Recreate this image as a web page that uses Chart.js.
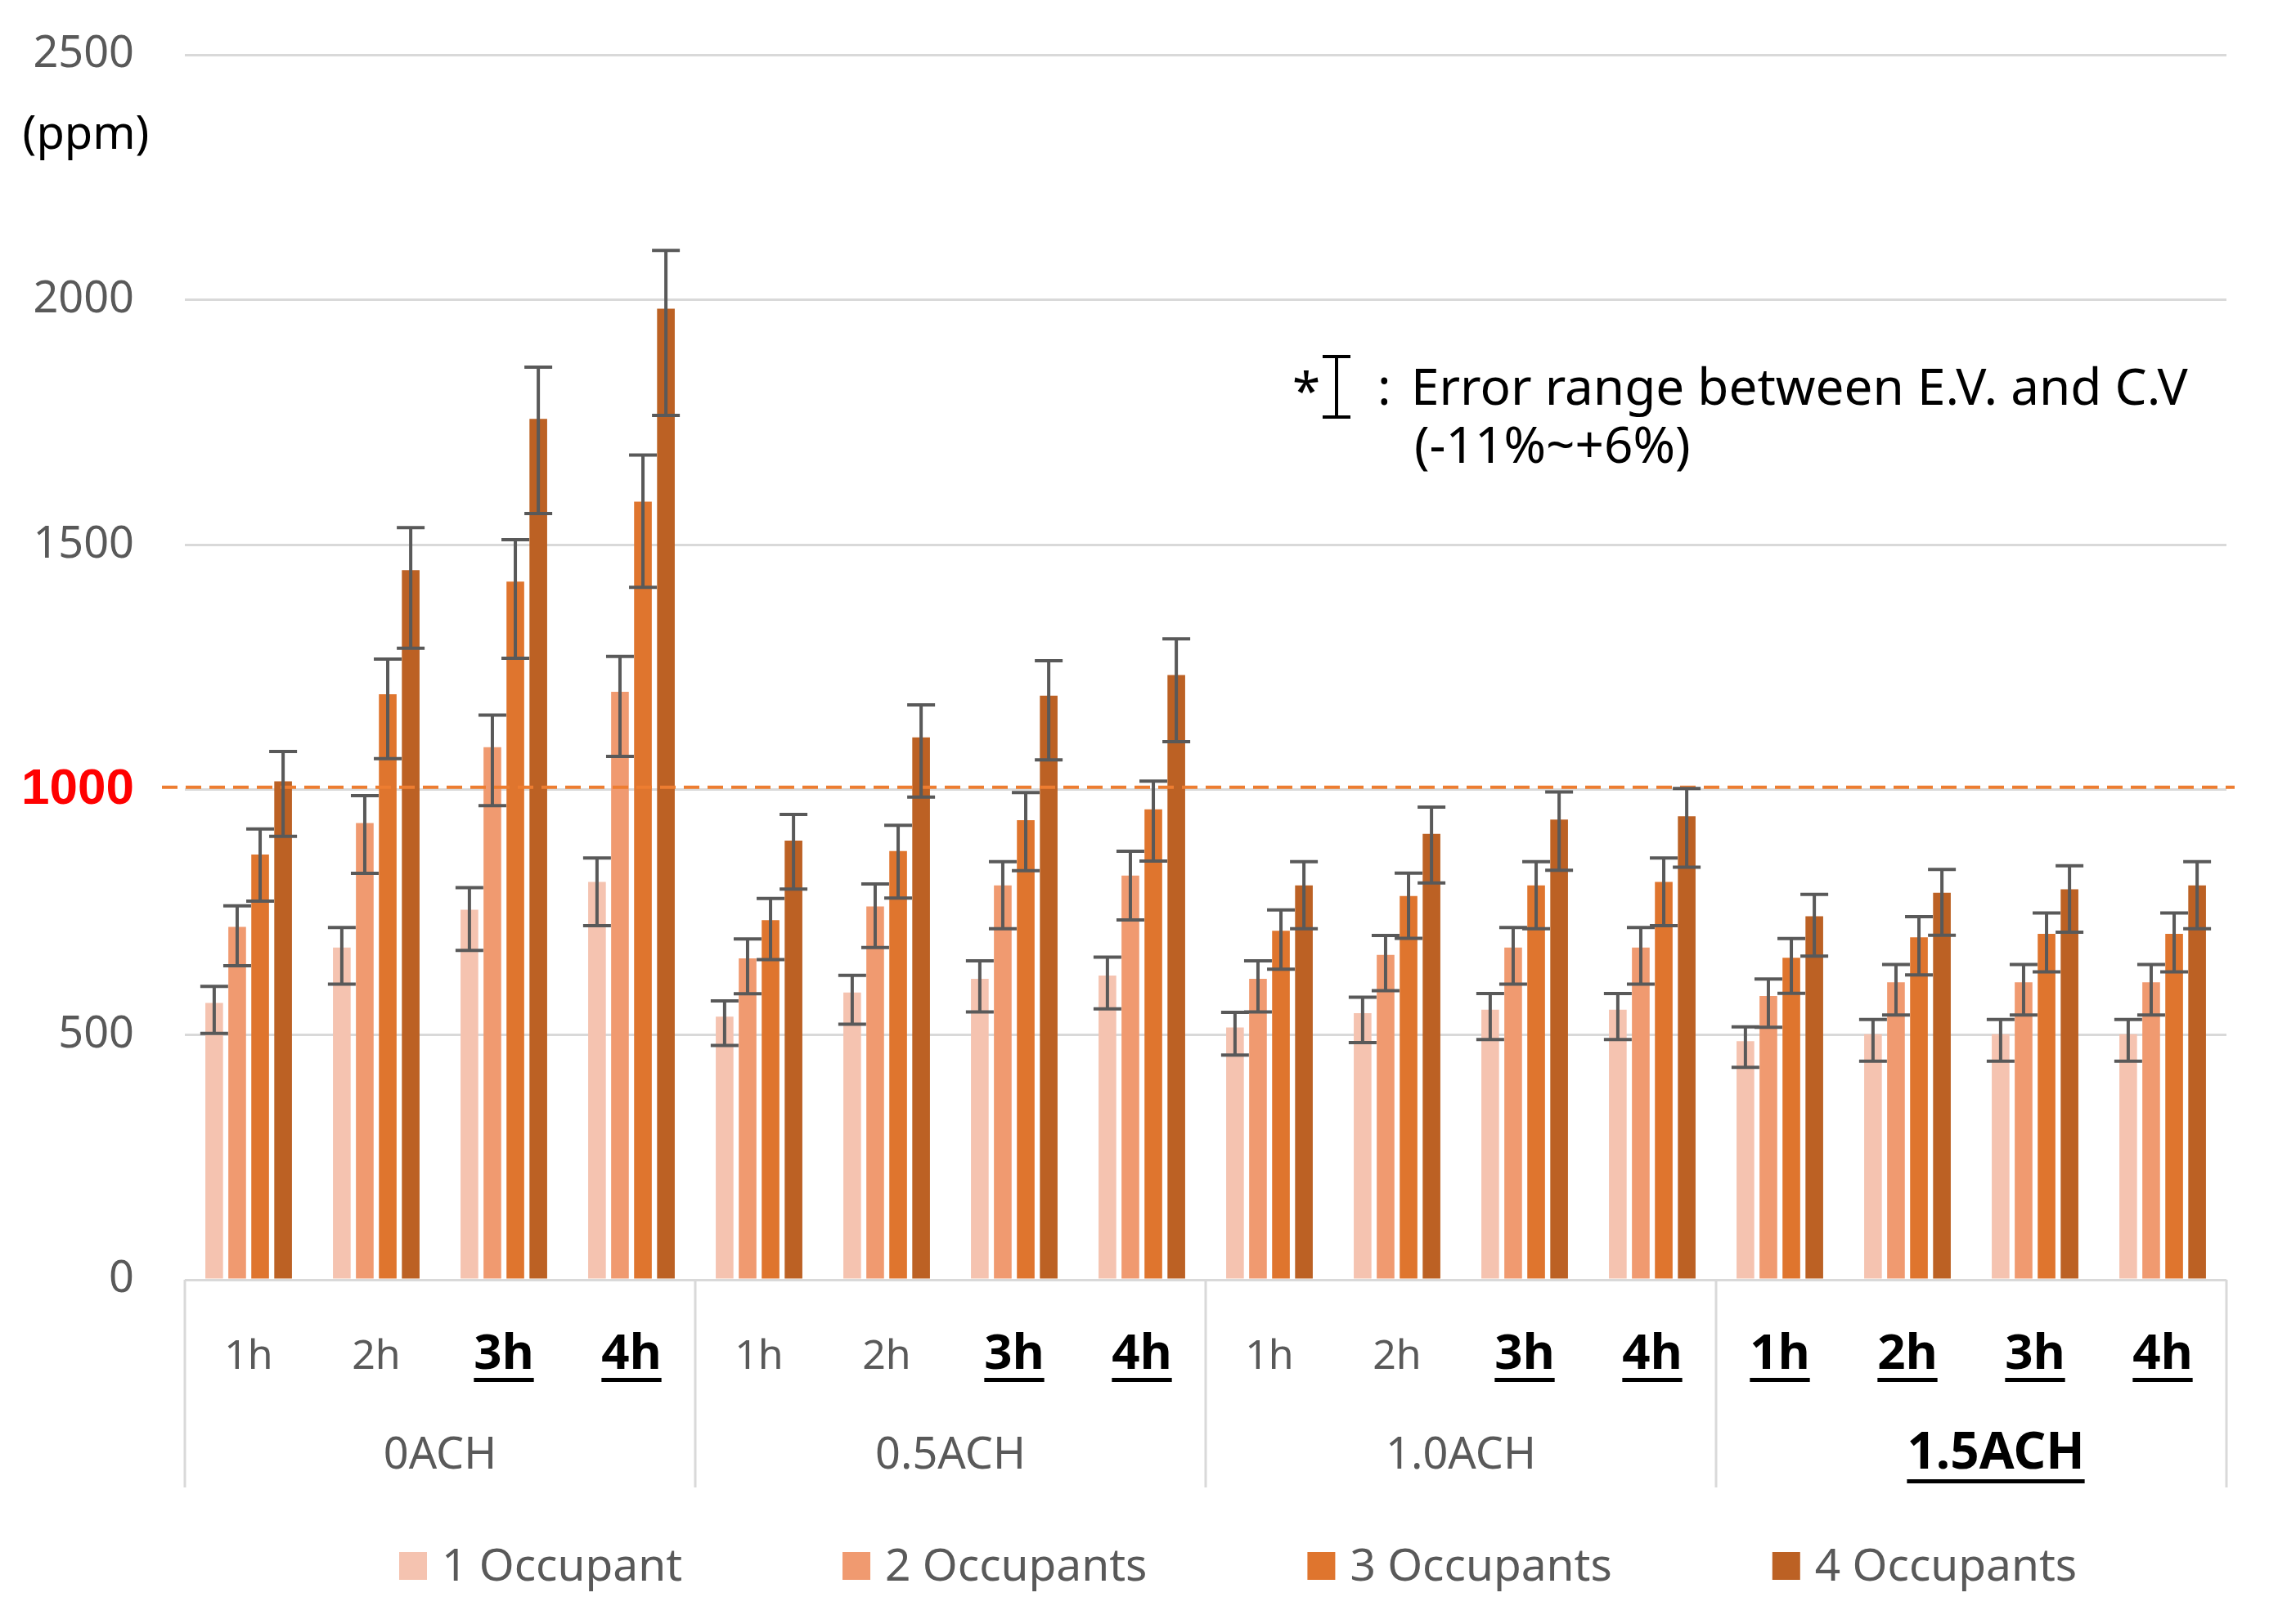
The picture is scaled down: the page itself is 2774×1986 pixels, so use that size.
<!DOCTYPE html>
<html>
<head>
<meta charset="utf-8">
<script src="https://cdn.jsdelivr.net/npm/chart.js@4.4.0/dist/chart.umd.min.js"></script>
<style>
  html, body { margin: 0; padding: 0; background: #fff; }
  #wrap { width: 2774px; height: 1986px; }
</style>
</head>
<body>
<div id="wrap"><canvas id="co2Chart" width="2774" height="1986"></canvas></div>
<script>
// Nhãn trục
const hourLabels = ['1h', '2h', '3h', '4h'];
const groupLabels = ['0ACH', '0.5ACH', '1.0ACH', '1.5ACH'];
const seriesNames = ['1 Occupant', '2 Occupants', '3 Occupants', '4 Occupants'];
const yTicks = [0, 500, 1000, 1500, 2000, 2500];

// Giá trị CO2 (ppm), theo thứ tự 0ACH 1h..4h, 0.5ACH 1h..4h, ...
const occupant1 = [565, 678, 755, 812, 537, 586, 614, 621, 515, 544, 551, 551, 487, 501, 501, 501];
const occupant2 = [720, 932, 1087, 1200, 656, 762, 805, 825, 614, 663, 678, 678, 579, 607, 607, 607];
const occupant3 = [868, 1195, 1425, 1588, 734, 875, 938, 960, 712, 783, 805, 812, 657, 699, 706, 706];
const occupant4 = [1017, 1448, 1757, 1982, 896, 1107, 1192, 1234, 805, 910, 939, 946, 742, 790, 797, 805];

// Sai số giữa E.V. và C.V (-11% ~ +6%)
const errorRange = [-0.11, 0.06];
const limitValue = 1000;

// Nhãn in đậm + gạch chân
const boldHours = [false, false, true, true, false, false, true, true,
                   false, false, true, true, true, true, true, true];
const boldGroups = [false, false, false, true];

const seriesColors = ['#F5C3B0', '#F09A70', '#DF752E', '#BC6124'];
const GRAY = '#595959';
const FONT = '"Noto Sans"';

const categories = [];
groupLabels.forEach(g => hourLabels.forEach(h => categories.push(h)));

Chart.defaults.font.family = FONT;

const extrasPlugin = {
    id: 'extras',
    afterDatasetsDraw(chart) {
        const ctx = chart.ctx;
        const y = chart.scales.y;
        const area = chart.chartArea;

        // Đường giới hạn 1000 ppm
        ctx.save();
        ctx.strokeStyle = '#ED7D31';
        ctx.lineWidth = 4;
        ctx.setLineDash([19, 10]);
        const ly = y.getPixelForValue(limitValue) - 3;
        ctx.beginPath();
        ctx.moveTo(area.left - 28, ly);
        ctx.lineTo(area.right + 10, ly);
        ctx.stroke();
        ctx.restore();

        // Thanh sai số
        ctx.save();
        ctx.strokeStyle = GRAY;
        ctx.lineWidth = 4;
        chart.data.datasets.forEach((ds, di) => {
            const meta = chart.getDatasetMeta(di);
            meta.data.forEach((bar, i) => {
                const v = ds.data[i];
                const top = y.getPixelForValue(v * (1 + errorRange[1]));
                const bot = y.getPixelForValue(v * (1 + errorRange[0]));
                const cx = bar.x;
                ctx.beginPath();
                ctx.moveTo(cx, top); ctx.lineTo(cx, bot);
                ctx.moveTo(cx - 17, top); ctx.lineTo(cx + 17, top);
                ctx.moveTo(cx - 17, bot); ctx.lineTo(cx + 17, bot);
                ctx.stroke();
            });
        });
        ctx.restore();
    },
    afterDraw(chart) {
        const ctx = chart.ctx;
        const xs = chart.scales.x;
        const area = chart.chartArea;
        const base = area.bottom;
        ctx.save();

        // Nhãn giờ
        ctx.textAlign = 'center';
        ctx.textBaseline = 'alphabetic';
        categories.forEach((t, i) => {
            const px = xs.getPixelForValue(i);
            const bold = boldHours[i];
            ctx.font = bold ? `bold 60px ${FONT}` : `50px ${FONT}`;
            ctx.fillStyle = bold ? '#000' : GRAY;
            ctx.fillText(t, px, base + 109);
            if (bold) {
                const w = ctx.measureText(t).width;
                ctx.fillRect(px - w / 2, base + 120, w, 5);
            }
        });

        // Nhãn nhóm + đường phân cách
        const n = hourLabels.length;
        const edges = [area.left];
        for (let g = 1; g < groupLabels.length; g++) {
            edges.push((xs.getPixelForValue(g * n - 1) + xs.getPixelForValue(g * n)) / 2);
        }
        edges.push(area.right);
        ctx.strokeStyle = '#D9D9D9';
        ctx.lineWidth = 3;
        edges.forEach(ex => {
            ctx.beginPath();
            ctx.moveTo(ex, base);
            ctx.lineTo(ex, base + 254);
            ctx.stroke();
        });
        groupLabels.forEach((t, g) => {
            const bold = boldGroups[g];
            // nhãn đậm hơi lệch phải như bản gốc
            const cx = (edges[g] + edges[g + 1]) / 2 + (bold ? 30 : 0);
            ctx.font = bold ? `bold 62px ${FONT}` : `54px ${FONT}`;
            ctx.fillStyle = bold ? '#000' : GRAY;
            ctx.fillText(t, cx, base + 231);
            if (bold) {
                const w = ctx.measureText(t).width;
                ctx.fillRect(cx - w / 2, base + 244, w, 5);
            }
        });

        // Chú giải
        ctx.font = `55px ${FONT}`;
        ctx.textAlign = 'left';
        ctx.textBaseline = 'middle';
        let lx = 488;
        const legendY = 1915;
        seriesNames.forEach((name, i) => {
            ctx.fillStyle = seriesColors[i];
            ctx.fillRect(lx, legendY - 17, 34, 34);
            ctx.fillStyle = GRAY;
            ctx.fillText(name, lx + 52, legendY + 2);
            lx += 52 + ctx.measureText(name).width + 196;
        });

        // Đơn vị
        ctx.font = `56px ${FONT}`;
        ctx.fillStyle = '#000';
        ctx.textAlign = 'center';
        ctx.fillText('(ppm)', 105, 166);

        // Ghi chú sai số
        ctx.textAlign = 'left';
        ctx.textBaseline = 'alphabetic';
        ctx.font = `62px ${FONT}`;
        ctx.fillText('*', 1580, 500);
        ctx.strokeStyle = '#000';
        ctx.lineWidth = 4;
        ctx.beginPath();
        ctx.moveTo(1634, 436); ctx.lineTo(1634, 510);
        ctx.moveTo(1617, 436); ctx.lineTo(1651, 436);
        ctx.moveTo(1617, 510); ctx.lineTo(1651, 510);
        ctx.stroke();
        ctx.fillText(':', 1684, 495);
        ctx.fillText('Error range between E.V. and C.V', 1725, 495);
        ctx.fillText('(-11%~+6%)', 1729, 566);
        ctx.restore();
    }
};

new Chart(document.getElementById('co2Chart'), {
    type: 'bar',
    data: {
        labels: categories,
        datasets: [occupant1, occupant2, occupant3, occupant4].map((vals, i) => ({
            label: seriesNames[i],
            data: vals,
            backgroundColor: seriesColors[i],
            borderWidth: 0,
            categoryPercentage: 0.72,
            barPercentage: 0.77
        }))
    },
    options: {
        responsive: false,
        devicePixelRatio: 1,
        animation: false,
        layout: { padding: { top: 67, right: 52, bottom: 121, left: 0 } },
        plugins: {
            legend: { display: false },
            tooltip: { enabled: false }
        },
        scales: {
            x: {
                grid: { display: false },
                border: { display: false },
                ticks: { display: false },
                afterFit: s => { s.height = 300; }
            },
            y: {
                min: 0,
                max: 2500,
                afterBuildTicks: s => { s.ticks = yTicks.map(v => ({ value: v })); },
                afterFit: s => {
                    s.width = 226;
                    s.paddingTop = 0;
                    s.paddingBottom = 0;
                },
                grid: { color: '#D9D9D9', lineWidth: 3, drawTicks: false },
                border: { display: false },
                ticks: {
                    padding: 62,
                    color: c => (c.tick && c.tick.value === limitValue ? '#FF0000' : GRAY),
                    font: c => (c.tick && c.tick.value === limitValue
                        ? { family: '"Liberation Sans"', size: 62, weight: 'bold' }
                        : { family: FONT, size: 54 }),
                    callback: v => String(v)
                }
            }
        }
    },
    plugins: [extrasPlugin]
});
</script>
</body>
</html>
